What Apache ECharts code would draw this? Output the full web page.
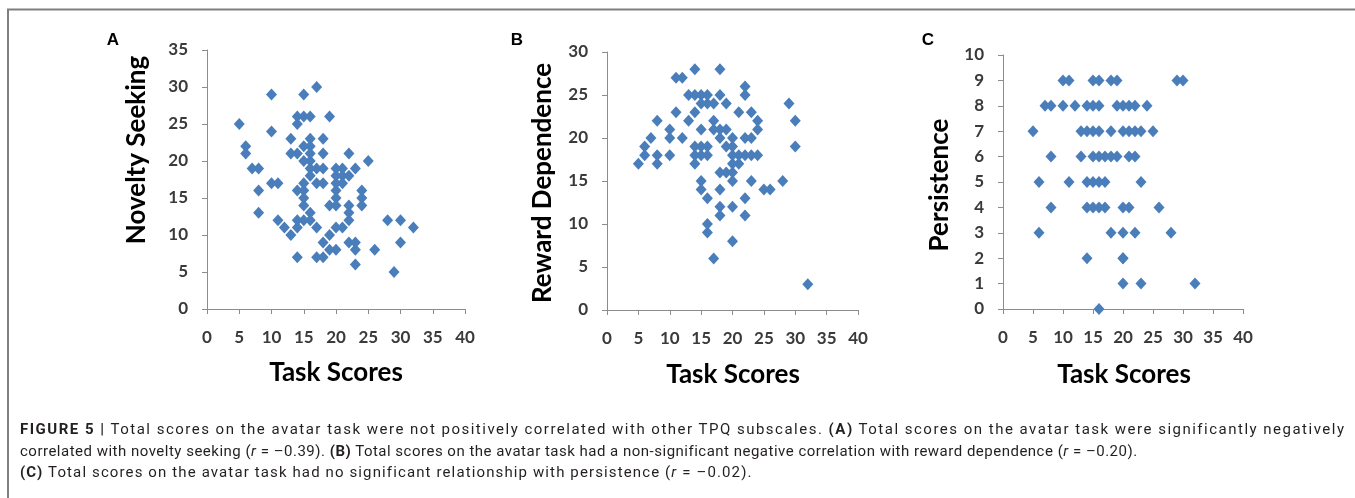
<!DOCTYPE html>
<html>
<head>
<meta charset="utf-8">
<script src="https://cdn.jsdelivr.net/npm/echarts@6/dist/echarts.min.js"></script>
<style>
html,body{margin:0;padding:0;background:#fff;}
#wrap{position:relative;width:1355px;height:498px;overflow:hidden;}
#c{position:absolute;left:0;top:0;width:1355px;height:498px;}
#cap{position:absolute;left:20px;top:419px;font-family:"Roboto",sans-serif;font-size:15px;line-height:21.5px;color:#231f20;white-space:nowrap;}
#cap div{white-space:nowrap;display:block;}
#cap span.ln{display:inline-block;white-space:nowrap;}
#cap b{font-weight:bold;}
</style>
</head>
<body>
<div id="wrap">
<div id="c"></div>
<div id="cap"></div>
</div>
<script>
// ---- Data ----
// Panel A: task score vs novelty seeking
const aTask =    [17,10,15,14,15,16,19,5,14,10,13,16,18,6,15,16,6,13,14,16,18,22,15,16,25,7,8,16,17,18,20,21,23,16,20,21,22,10,11,15,17,18,20,21,8,14,15,20,24,15,20,24,15,19,20,22,24,8,16,22,11,14,15,16,22,28,30,12,14,17,20,21,32,13,19,18,22,23,30,19,20,23,26,14,17,18,23,29];
const aNovelty = [30,29,29,26,26,26,26,25,25,24,23,23,23,22,22,22,21,21,21,21,21,21,20,20,20,19,19,19,19,19,19,19,19,18,18,18,18,17,17,17,17,17,17,17,16,16,16,16,16,15,15,15,14,14,14,14,14,13,13,13,12,12,12,12,12,12,12,11,11,11,11,11,11,10,10,9,9,9,9,8,8,8,8,7,7,7,6,5];
// Panel B: task score vs reward dependence
const bTask =    [5,6,6,7,8,8,8,10,10,10,11,12,11,12,13,13,14,14,14,15,16,15,16,17,18,18,19,17,15,17,18,19,18,20,14,15,16,14,15,16,19,20,20,21,22,23,24,14,20,21,22,22,21,23,24,24,22,23,29,30,30,18,19,20,15,20,23,28,15,18,25,26,16,22,18,20,18,22,16,16,20,17,32];
const bReward =  [17,18,19,20,22,18,17,18,21,20,27,27,23,20,22,25,25,23,28,25,25,24,24,24,25,28,24,22,21,21,21,21,20,20,19,19,19,18,18,18,19,19,18,18,18,18,18,17,17,17,26,25,23,23,22,21,20,20,24,22,19,16,16,16,15,15,15,15,14,14,14,14,13,13,12,12,11,11,10,9,8,6,3];
// Panel C: task score vs persistence
const cTask =    [10,11,15,16,18,19,29,30, 7,8,10,12,14,15,16,19,20,21,22,24, 5,13,14,15,16,18,20,21,22,23,25, 8,13,15,16,17,18,19,21,22, 6,11,14,15,16,17,23, 8,14,15,16,17,20,21,26, 6,18,20,22,28, 14,20,20, 20,23,32, 16];
const cPersist = [ 9, 9, 9, 9, 9, 9, 9, 9, 8,8, 8, 8, 8, 8, 8, 8, 8, 8, 8, 8, 7, 7, 7, 7, 7, 7, 7, 7, 7, 7, 7, 6, 6, 6, 6, 6, 6, 6, 6, 6, 5, 5, 5, 5, 5, 5, 5, 4, 4, 4, 4, 4, 4, 4, 4, 3, 3, 3, 3, 3,  2, 2, 2,  1, 1, 1,  0];

const xTicksMax = 40, xStep = 5;
const panelLetters = ['A','B','C'];
const yTitles = ['Novelty Seeking','Reward Dependence','Persistence'];
const xTitle = 'Task Scores';
const yMaxes = [35, 30, 10];
const ySteps = [5, 5, 1];

const captionLines = [
  '<b>FIGURE 5 |</b> Total scores on the avatar task were not positively correlated with other TPQ subscales. <b>(A)</b> Total scores on the avatar task were significantly negatively',
  'correlated with novelty seeking (<i>r</i> = –0.39). <b>(B)</b> Total scores on the avatar task had a non-significant negative correlation with reward dependence (<i>r</i> = –0.20).',
  '<b>(C)</b> Total scores on the avatar task had no significant relationship with persistence (<i>r</i> = –0.02).'
];

function pairs(xs, ys){ return xs.map((x,i)=>[x, ys[i]]); }

// ---- Layout ----
const grids = [
  {left:207, top:50, width:258, height:259},
  {left:607, top:52, width:251, height:258},
  {left:1003, top:55, width:240, height:254}
];
const yTitlePos = [[137,150],[543,183],[940,185]];
const xTitlePos = [[336,373],[733,375],[1124,375]];
const letterPos = [[113,40],[517,40],[928,40]];
const captionWidths = [1325, 1117, 732];

const axisColor = '#8c8c8c';
const labelFont = {fontFamily:'Lato, "Open Sans", sans-serif', fontWeight:'bold', fontSize:17, color:'#3a3a3a'};
const titleFont = 'Lato, "Open Sans", sans-serif';

const xAxes = grids.map((g,i)=>({
  type:'value', gridIndex:i, min:0, max:xTicksMax, interval:xStep,
  axisLine:{show:true, lineStyle:{color:axisColor, width:1}},
  axisTick:{show:true, inside:false, length:5, lineStyle:{color:axisColor}},
  axisLabel:Object.assign({margin:20}, labelFont),
  splitLine:{show:false}
}));
const yAxes = grids.map((g,i)=>({
  type:'value', gridIndex:i, min:0, max:yMaxes[i], interval:ySteps[i],
  axisLine:{show:true, lineStyle:{color:axisColor, width:1}},
  axisTick:{show:true, inside:false, length:5, lineStyle:{color:axisColor}},
  axisLabel:Object.assign({margin:19}, labelFont),
  splitLine:{show:false}
}));

const dataSets = [pairs(aTask,aNovelty), pairs(bTask,bReward), pairs(cTask,cPersist)];
const series = dataSets.map((d,i)=>({
  type:'scatter', xAxisIndex:i, yAxisIndex:i, data:d,
  symbol:'diamond', symbolSize:[11,12],
  itemStyle:{color:'#4a7ebb', opacity:1},
  silent:true, animation:false
}));

const graphic = [
  {type:'rect', shape:{x:8, y:9.5, width:1400, height:600}, style:{fill:'none', stroke:'#7f7f7f', lineWidth:2}, silent:true}
];
grids.forEach((g,i)=>{
  graphic.push({type:'text', x:letterPos[i][0], y:letterPos[i][1],
    style:{text:panelLetters[i], font:'bold 17px "Liberation Sans", Arial, sans-serif', fill:'#000', textAlign:'center', textVerticalAlign:'middle'}});
  graphic.push({type:'text', x:yTitlePos[i][0], y:yTitlePos[i][1], rotation:Math.PI/2,
    style:{text:yTitles[i], font:'bold 26px '+titleFont, fill:'#000', textAlign:'center', textVerticalAlign:'middle'}});
  graphic.push({type:'text', x:xTitlePos[i][0], y:xTitlePos[i][1],
    style:{text:xTitle, font:'bold 26px '+titleFont, fill:'#000', textAlign:'center', textVerticalAlign:'middle'}});
});

const chart = echarts.init(document.getElementById('c'), null, {renderer:'canvas'});
chart.setOption({
  animation:false,
  backgroundColor:'#fff',
  grid:grids.map(g=>Object.assign({containLabel:false}, g)),
  xAxis:xAxes, yAxis:yAxes, series:series, graphic:graphic
});

// Caption: real text; each line's letter-spacing fitted to the width it has in the reference
const cap = document.getElementById('cap');
cap.innerHTML = captionLines.map(t=>'<div><span class="ln">'+t+'</span></div>').join('');
Array.from(cap.querySelectorAll('span.ln')).forEach((el,i)=>{
  const w = el.getBoundingClientRect().width;
  el.style.letterSpacing = ((captionWidths[i] - w) / el.textContent.length).toFixed(3) + 'px';
});
</script>
</body>
</html>
